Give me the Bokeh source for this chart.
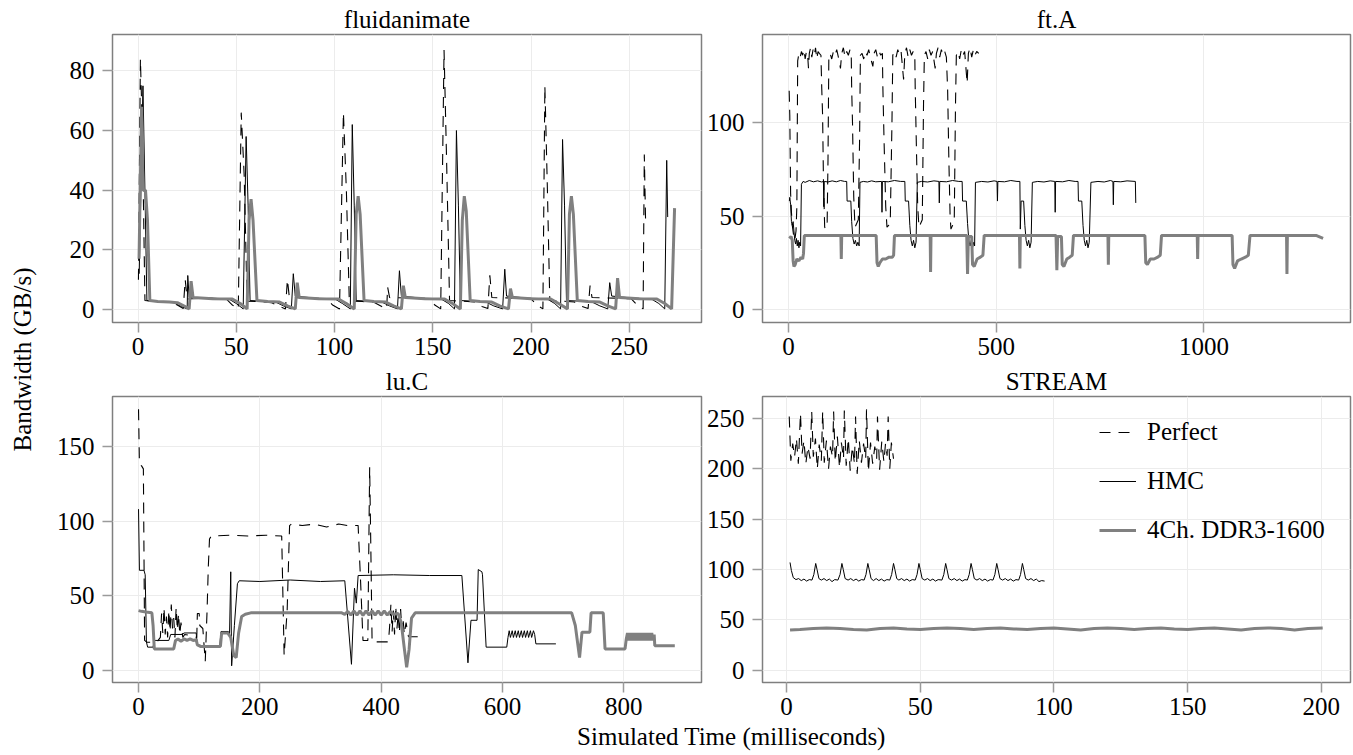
import math
from bokeh.plotting import figure
from bokeh.models import Range1d, FixedTicker, Legend, LegendItem, Label
from bokeh.layouts import row, column
from bokeh.embed import file_html
from bokeh.resources import INLINE

# ---------------- data (time in ms, bandwidth in GB/s) ----------------
fluid_perfect = [(0.2,10),(1.2,84),(2.2,60),(3.5,3),(10,2.7),(16,2.5),(20,1.5),(23,0.3),(24,10),(25,3.5),(35,3.8),(45,3.5),(48,1.5),(51,0.2),
    (52.5,66),(54,45),(55.5,2.8),(62,2.6),(68,2.3),(72,1),(75,0.2),(76,10),(77,4),(88,3.8),(96,3.5),(99,1.5),(102.5,0.2),
    (104.5,66),(106,40),(107.5,2.8),(114,2.7),(120,2.4),(124,1),(126.5,0.2),(127,7.5),(128,4),(140,3.8),(148,3.5),(151,1.5),(154,0.2),
    (155.7,87),(157,50),(158.5,3),(165,2.8),(171,2.5),(175,1),(178,0.3),(179,11.5),(180,4),(192,3.8),(200,3.6),(203,1.5),(206,0.2),
    (207,75),(208.3,40),(209.5,3),(216,2.8),(222,2.5),(226,1),(229,0.3),(230,8),(231,4),(243,3.8),(251,3.6),(254,1.5),(257,0.2),
    (257.6,52),(258.3,28)]
fluid_hmc = [(0.6,12),(2.5,75),(3.5,40),(4.5,3),(8,2.8),(14,2.5),(18,2.3),(22,1),(25,0.2),(25.3,11.4),(26,4),(36,3.8),(46,3.6),(50,2),(53.5,0.2),
    (55,58),(56,35),(57,3),(64,2.8),(70,2.5),(74,1.2),(78,0.2),(79,12),(80,4.5),(90,3.8),(100,3.6),(104,2),(108,0.2),
    (109,62),(110,35),(111,3),(118,2.8),(124,2.5),(128,1.2),(132,0.2),(133,13),(134,4.5),(144,3.8),(154,3.6),(158,2),(161,0.2),
    (162,60),(163,35),(164,3),(171,2.8),(177,2.5),(181,1.2),(185.5,0.2),(186.6,13.5),(187.5,4.5),(198,3.8),(208,3.6),(212,2),(215,0.2),
    (216,57),(217,35),(218,3),(225,2.8),(231,2.5),(235,1.2),(239,0.2),(240,9),(241,4.5),(252,3.8),(261,3.6),(265,2),(268,0.2),
    (269,50),(269.5,31)]
fluid_ddr = [(0.5,17),(1.8,68),(2.6,40),(3.8,40),(4.8,30),(6,3),(10,2.7),(16,2.5),(20,2.3),(24,1),(26,0.2),(27,9.5),(28,4),(38,3.6),(48,3.5),(52,2),(55.5,0.2),
    (56.5,30),(57.5,37),(58.5,30),(60.5,3),(66,2.7),(72,2.5),(76,1.2),(80,0.2),(81,9),(82,4),(92,3.6),(102,3.5),(106,2),(110,0.2),
    (111,32),(112,38),(113,32),(115,3),(120,2.7),(126,2.5),(130,1.2),(134,0.2),(135,8),(136,4),(146,3.6),(156,3.5),(160,2),(164,0.2),
    (165,30),(166,38),(167,33),(169,3),(174,2.7),(180,2.5),(184,1.2),(188.5,0.2),(189.5,7),(190.5,4),(200,3.6),(210,3.5),(214,2),(218.5,0.2),
    (219.5,32),(220.5,38),(221.5,32),(223.5,3),(229,2.7),(235,2.5),(239,1.2),(243,0.2),(244,10.5),(245,4),(255,3.6),(264,3.5),(268,2),(271.5,0.2),
    (273,34)]

ftA_perfect = [(1.5,117),(3,104),(5,62),(7,52),(9,45),(12,40),(15,37),(18,42),(20,55),(22,133),(25,137),(28,135),(31,138),(34,136),(37,139),(40,134),
    (43,138),(46,136),(48,129),(50,137),(53,140),(56,135),(59,139),(62,136),(65,140),(68,134),(71,138),(74,137),(78,136),(80,118),(82,104),(84,70),
    (87,44),(90,43),(93,47),(95,80),(97,135),(100,137),(104,134),(108,138),(112,136),(116,139),(120,135),(125,129),(128,137),(132,140),(136,135),
    (140,138),(144,136),(148,139),(151,136),(152,118),(154,100),(157,60),(160,44),(164,46),(168,48),(171,90),(173,136),(177,137),(181,134),(185,138),
    (189,136),(193,139),(197,135),(203,130),(206,137),(210,139),(214,135),(218,138),(222,136),(226,137),(227,120),(230,90),(234,55),(237,44),(241,45),
    (245,48),(249,100),(251,136),(255,138),(259,135),(263,139),(267,136),(271,138),(277,123),(280,137),(284,140),(288,135),(292,139),(296,136),
    (300,138),(304,136),(305,118),(308,85),(311,55),(314,44),(318,46),(322,48),(325,110),(327,136),(331,138),(335,134),(339,139),(343,136),(347,138),
    (353,129),(356,137),(360,140),(364,135),(368,139),(372,136),(376,138),(380,135),(383,118),(386,80),(389,50),(391,43),(395,45),(399,48),(402,110),
    (404,136),(408,138),(412,134),(416,139),(420,136),(424,138),(430,121),(433,137),(437,140),(441,135),(445,139),(449,136),(453,138),(458,137)]
ftA_hmc = [(2,58),(3,60),(5,56),(7,47),(9,45),(11,47),(13,42),(15,37),(17,35),(19,38),(21,34),(23,37),(25,33),(27,36),(29,34),(31,67),(35,68.5),
    (40,68),(50,69),(60,68.3),(70,68.8),(80,68.2),(84,68.5),(85,55),(86,68.5),(95,68.2),(105,68.8),(115,68.3),(125,69),(135,68.5),(140,68.5),(141,58),
    (150,58),(152,47),(155,38),(158,35),(161,37),(164,34),(167,36),(170,34),(172,68),(180,68.5),(190,68.2),(200,68.8),(210,68.3),(224,68.5),(225,52),
    (226,68.5),(240,68.3),(255,69),(270,68.5),(280,68.5),(281,58),(289,58),(292,45),(295,37),(298,34),(301,37),(304,33),(307,36),(310,68),(320,68.5),
    (335,68.2),(350,68.8),(362,68.5),(363,57),(364,68.5),(380,68.3),(395,69),(410,68.5),(418,68.5),(419,58),(428,58),(431,46),(434,37),(437,34),
    (440,37),(443,33),(446,36),(448,34),(450,68),(465,68.5),(480,68.2),(495,68.8),(502,68.5),(503,58),(504,68.5),(520,68.3),(535,69),(550,68.5),
    (557,68.5),(558,43),(560,58),(566,58),(569,45),(572,37),(575,34),(578,37),(581,33),(584,36),(587,68),(600,68.5),(615,68.2),(630,68.8),(641,68.5),
    (642,52),(643,68.5),(660,68.3),(675,69),(690,68.5),(697,68.5),(698,58),(706,58),(709,45),(712,37),(715,34),(718,37),(721,33),(724,36),(728,68),
    (745,68.5),(760,68.2),(775,69),(781,68.5),(782,56),(783,68.5),(800,68.3),(815,68.8),(835,68.5),(836,57)]
ftA_ddr = [(2,38),(6,39),(9,37),(11,26),(13,23),(16,24),(20,27),(25,26),(30,28),(34,27),(36,30),(38,39.6),(60,39.6),(90,39.6),(126,39.6),(127,27),
    (128,39.6),(160,39.6),(190,39.6),(211,39.6),(213,25),(216,23),(220,25),(226,27),(234,27),(242,28),(250,28),(253,29),(255,39.6),(290,39.6),
    (320,39.6),(341,39.6),(342,20),(343,39.6),(380,39.6),(410,39.6),(429,39.6),(431,19),(433,39),(441,39),(443,24),(447,23),(454,27),(462,28),
    (468,29),(471,39.6),(510,39.6),(540,39.6),(556,39.6),(557,22),(558,39.6),(600,39.6),(630,39.6),(644,39.6),(646,21),(648,39),(657,39),(659,24),
    (663,23),(670,27),(677,28),(683,29),(686,39.6),(720,39.6),(750,39.6),(769,39.6),(770,24),(771,39.6),(810,39.6),(840,39.6),(858,39.6),(860,25),
    (864,24),(871,27),(880,27),(889,28),(895,29),(898,39.6),(930,39.6),(960,39.6),(984,39.6),(985,27),(986,39.6),(1020,39.6),(1050,39.6),(1068,39.6),
    (1070,24),(1074,22),(1081,26),(1090,27),(1100,28),(1107,29),(1111,39.6),(1150,39.6),(1180,39.6),(1199,39.6),(1200,19),(1201,39.6),(1240,39.6),
    (1270,39.6),(1287,38)]

luC_perfect = [(0,175),(1.5,138),(5,137),(8,135),(10,20),(14,18.8),(30,18.8),(36,22),(38,38),(40,25),(42,42),(44,24),(46,36),(48,22),(50,40),
    (52,26),(54,44),(56,28),(58,35),(60,22),(62,42),(64,27),(66,38),(68,24),(70,32),(73,22),(76,24),(90,23),(96,22),(97,38),(100,38),(101,30),
    (106,28),(110,6),(113,40),(115,69),(117,88),(120,90),(150,90.5),(180,90),(210,90.5),(236,90),(240,10),(245,40),(249,97),(252,98),(270,97),
    (290,98),(310,96),(330,98),(345,97),(362,97),(366,60),(370,20),(378,20),(379,60),(381,136),(383,80),(385,19),(412,19),(414,30),(416,44),
    (418,26),(420,40),(422,24),(424,43),(426,28),(428,38),(430,25),(432,41),(434,27),(436,35),(438,24),(441,32),(445,22.5),(463,22.5)]
luC_hmc = [(0,108),(1.5,67),(9,67),(11,64),(13,19),(15,15.5),(24,15.5),(26,20),(50,20),(53,24),(72,24),(75,25),(95,25),(97,17),(105,16.5),
    (134,16.5),(136,26),(148,26),(150,24),(152,66),(153.5,3),(158,30),(163,58),(166,60),(200,59.5),(250,60.5),(300,59.5),(340,60),(351,4),(356,55),
    (359,45),(362,63.5),(420,64),(480,63.5),(533,63.5),(543,5),(548,33.5),(558,33.5),(560,67.5),(566,66),(567,64),(573,15.5),(607,15.5),(609,22),
    (611,26.5),(613,22),(616,26.5),(618,22),(621,26.5),(623,22),(626,26.5),(628,22),(631,26.5),(633,22),(636,26.5),(638,22),(641,26.5),(643,22),
    (646,26.5),(648,22),(651,26.5),(653,24),(655,17.7),(688,17.7)]
luC_ddr = [(0,40),(5,39.5),(12,39),(22,38.5),(24,30),(26,14.3),(40,14.3),(58,14.3),(61,20),(65,21),(70,19.5),(75,21),(80,20),(85,21),(90,20),
    (95,20.5),(97,17),(102,16),(120,16),(135,16),(137,25),(147,25),(152,22),(157,10),(161,8.5),(165,25),(170,36),(176,37.5),(185,38.5),(250,38.5),
    (300,38.5),(335,38.5),(340,37.5),(345,39.5),(350,37),(355,39.8),(360,37),(365,39.8),(370,36.8),(375,39.8),(380,37),(385,39.8),(390,37),
    (395,39.8),(400,37),(405,39.8),(410,37),(415,39.5),(420,37.5),(428,38),(433,32),(438,15),(442,2),(446,14),(450,35),(456,38.5),(550,38.5),
    (650,38.5),(714,38.5),(720,30),(727,8.5),(731,25.5),(744,25.5),(746,38.5),(766,38.5),(769,14.3),(802,14.3),(804,21),(806,25),(808,20),(810,25),
    (812,20),(814,25),(816,20),(818,25),(820,20),(822,25),(824,20),(826,25),(828,20),(830,25),(832,20),(834,25),(836,20),(838,25),(840,20),(842,25),
    (844,20),(846,25),(848,20),(850,24),(851,16.5),(884,16.5)]

stream_perfect = [(1.0,252),(1.6,208),(2.3,225),(3.0,212),(3.7,230),(4.4,205),(5.2,255),(5.8,215),(6.5,228),(7.2,205),(8.0,222),(8.8,210),(9.4,257),
    (10.0,212),(10.8,230),(11.5,200),(12.2,224),(13.0,208),(13.5,257),(14.1,206),(14.9,228),(15.7,200),(16.4,222),(17.2,212),(17.6,257),(18.2,207),
    (19.0,232),(19.8,201),(20.5,226),(21.3,210),(21.6,258),(22.3,203),(23.1,230),(23.8,198),(24.6,222),(25.4,205),(25.8,252),(26.4,195),(27.2,228),
    (28.0,206),(28.8,225),(29.6,210),(29.9,259),(30.6,197),(31.4,226),(32.2,205),(33.0,222),(33.7,210),(34.0,252),(34.8,199),(35.6,227),(36.4,207),
    (37.0,225),(37.6,213),(38.0,252),(38.6,200),(39.2,226),(40.0,210)]
stream_hmc = [(1.3,107),(1.8,99),(2.5,92),(3.5,90),(4.5,91),(5.5,89),(6.5,90.5),(7.5,88.5),(8.5,90),(9.5,89.5),(10.2,95),(10.9,106),(11.4,100),
    (12.1,91),(13,89.5),(14,91),(15,89),(16,90.5),(17,88),(18,90),(19.2,89.5),(20,95),(20.7,106),(21.2,100),(21.9,91),(23,89.5),(24,91),(25,89),
    (26,90.5),(27,88.5),(28,90),(29,89.5),(29.7,95),(30.4,106),(30.9,100),(31.6,91),(32.5,89),(33.5,91),(34.5,89),(35.5,90.5),(36.5,88.5),(37.5,90),
    (38.6,89.5),(39.3,95),(40,106),(40.5,100),(41.2,91),(42,89.5),(43,91),(44,89),(45,90.5),(46,88.5),(47,90),(48.1,89.5),(48.8,95),(49.5,106),
    (50,100),(50.7,91),(51.7,89.5),(52.7,91),(53.7,89),(54.7,90.5),(55.7,88.5),(56.7,90),(58.1,89.5),(58.8,95),(59.5,106),(60,100),(60.7,91),
    (61.7,89.5),(62.7,91),(63.7,89),(64.7,90.5),(65.7,88.5),(66.7,90),(67.6,89.5),(68.3,95),(69,106),(69.5,100),(70.2,91),(71.2,89.5),(72.2,91),
    (73.2,89),(74.2,90.5),(75.2,88.5),(76.2,90),(77.2,89.5),(77.9,95),(78.6,106),(79.1,100),(79.8,91),(80.8,89.5),(81.8,91),(82.8,89),(83.8,90.5),
    (84.8,88.5),(85.8,90),(86.8,89.5),(87.5,95),(88.2,106),(88.7,100),(89.4,91),(90.4,89.5),(91.4,91),(92.4,89),(93.4,90.5),(94.4,88),(95.4,89),
    (96.5,88.5)]
stream_ddr = [(1.3,40),(5,40.5),(10,41.5),(15,42),(20,41.5),(25,40.5),(30,40),(35,41.5),(40,42),(45,41),(50,40.5),(55,41.5),(60,42),(65,41.5),
    (70,40.5),(75,41.5),(80,42),(85,41),(90,40.5),(95,41.5),(100,42),(105,41),(110,40),(115,41.5),(120,42),(125,41.5),(130,40.5),(135,41.5),
    (140,42),(145,41),(150,40.5),(155,41.5),(160,42),(165,41),(170,40),(175,41.5),(180,42),(185,41.5),(190,40),(195,41.5),(200.5,42)]

panel_titles = ["fluidanimate", "ft.A", "lu.C", "STREAM"]
series_labels = ["Perfect", "HMC", "4Ch. DDR3-1600"]
fluid_xticks = [0, 50, 100, 150, 200, 250]
fluid_yticks = [0, 20, 40, 60, 80]
ftA_xticks = [0, 500, 1000]
ftA_yticks = [0, 50, 100]
luC_xticks = [0, 200, 400, 600, 800]
luC_yticks = [0, 50, 100, 150]
stream_xticks = [0, 50, 100, 150, 200]
stream_yticks = [0, 50, 100, 150, 200, 250]

# ---------------- styling ----------------
FONT = "Liberation Serif"
FS = "25px"
GRAY = "#808080"


def xs(pairs):
    return [a for a, b in pairs]


def ys(pairs):
    return [b for a, b in pairs]


def panel(title, series, xr, yr, xt, yt, w, h, ml, mr, mt, mb):
    p = figure(width=w, height=h, x_range=Range1d(*xr), y_range=Range1d(*yr),
               output_backend="svg", toolbar_location=None,
               min_border_left=ml, min_border_right=mr,
               min_border_top=mt, min_border_bottom=mb)
    p.title.text = title
    p.title.align = "center"
    p.title.text_font = FONT
    p.title.text_font_size = FS
    p.title.text_font_style = "normal"
    p.title.text_color = "black"
    p.title.standoff = 3
    p.outline_line_color = "#7f7f7f"
    p.outline_line_width = 1.5
    for ax, ticks, so in ((p.xaxis, xt, 5), (p.yaxis, yt, 8)):
        ax.ticker = FixedTicker(ticks=ticks)
        ax.axis_line_color = None
        ax.major_tick_line_color = "#9a9a9a"
        ax.major_tick_line_width = 1.5
        ax.major_tick_out = 10
        ax.major_tick_in = 0
        ax.minor_tick_line_color = None
        ax.major_label_text_font = FONT
        ax.major_label_text_font_size = FS
        ax.major_label_text_color = "black"
        ax.major_label_standoff = so
    p.grid.grid_line_color = "#ececec"
    p.grid.grid_line_width = 1
    perf, hmc, ddr = series
    r1 = p.line(xs(perf), ys(perf), line_color="black", line_width=1.1, line_dash="11 8")
    r2 = p.line(xs(hmc), ys(hmc), line_color="black", line_width=1.0)
    r3 = p.line(xs(ddr), ys(ddr), line_color=GRAY, line_width=3)
    return p, (r1, r2, r3)


W0 = 40
W1, W2 = 663, 649
H1, H2, H3 = 362, 358, 32

f1, _ = panel(panel_titles[0], (fluid_perfect, fluid_hmc, fluid_ddr), (-13.0, 286.7), (-4.36, 92.2),
              fluid_xticks, fluid_yticks, W1, H1, 72, 2, 34, 40)
f2, _ = panel(panel_titles[1], (ftA_perfect, ftA_hmc, ftA_ddr), (-62.7, 1353), (-6.96, 147.1),
              ftA_xticks, ftA_yticks, W2, H1, 58, 2, 34, 40)
f3, _ = panel(panel_titles[2], (luC_perfect, luC_hmc, luC_ddr), (-42.9, 928), (-8.2, 183.5),
              luC_xticks, luC_yticks, W1, H2, 72, 2, 34, 38)
f4, rs = panel(panel_titles[3], (stream_perfect, stream_hmc, stream_ddr), (-9.0, 210.9), (-12.2, 271.8),
               stream_xticks, stream_yticks, W2, H2, 58, 2, 34, 38)

legend = Legend(items=[LegendItem(label=series_labels[i], renderers=[rs[i]]) for i in range(3)],
                location=(337, 132), orientation="vertical",
                glyph_width=37, glyph_height=40, label_height=40, spacing=9,
                padding=0, margin=0, label_standoff=11,
                background_fill_alpha=0, border_line_color=None,
                label_text_font=FONT, label_text_font_size=FS, label_text_color="black")
f4.add_layout(legend)

# shared axis titles
HT = H1 + H2 + H3
ylab = figure(width=W0, height=HT, x_range=Range1d(0, W0), y_range=Range1d(0, HT),
              output_backend="svg", toolbar_location=None,
              x_axis_location=None, y_axis_location=None,
              min_border_left=0, min_border_right=0, min_border_top=0, min_border_bottom=0)
ylab.outline_line_color = None
ylab.grid.visible = False
ylab.add_layout(Label(x=22, y=HT - 359, text="Bandwidth (GB/s)", angle=math.pi / 2,
                      text_align="center", text_baseline="middle",
                      text_font=FONT, text_font_size=FS, text_color="black"))

xlab = figure(width=W1 + W2, height=H3, x_range=Range1d(0, W1 + W2), y_range=Range1d(0, H3),
              output_backend="svg", toolbar_location=None,
              x_axis_location=None, y_axis_location=None,
              min_border_left=0, min_border_right=0, min_border_top=0, min_border_bottom=0)
xlab.outline_line_color = None
xlab.grid.visible = False
xlab.add_layout(Label(x=731 - W0, y=HT - 736, text="Simulated Time (milliseconds)",
                      text_align="center", text_baseline="middle",
                      text_font=FONT, text_font_size=FS, text_color="black"))

layout = row(ylab, column(row(f1, f2), row(f3, f4), xlab))

open("out.html", "w").write(file_html(layout, INLINE))
